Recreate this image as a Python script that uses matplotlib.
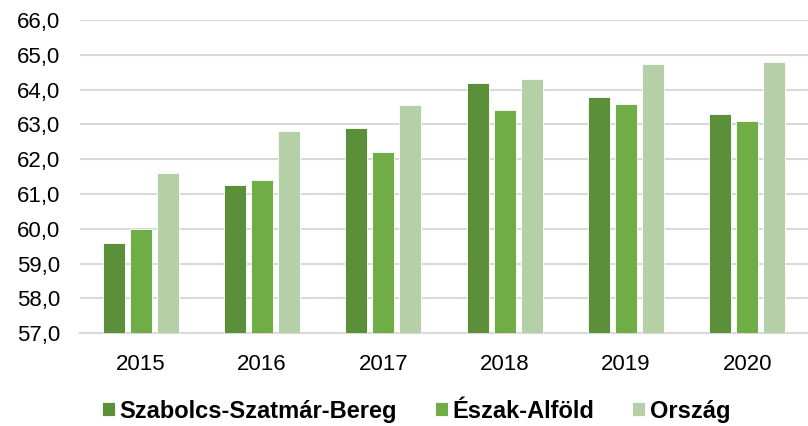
import numpy as np
import matplotlib.pyplot as plt

plt.rcParams['font.family'] = ['Liberation Sans', 'DejaVu Sans']

years = ['2015', '2016', '2017', '2018', '2019', '2020']
szabolcs = [59.6, 61.25, 62.9, 64.2, 63.8, 63.3]
eszak_alfold = [60.0, 61.4, 62.2, 63.4, 63.6, 63.1]
orszag = [61.6, 62.8, 63.55, 64.3, 64.75, 64.8]

series = [
    ('Szabolcs-Szatmár-Bereg', szabolcs, '#5b8f3a'),
    ('Észak-Alföld', eszak_alfold, '#70ad47'),
    ('Ország', orszag, '#b5cfa7'),
]

fig = plt.figure(figsize=(8.08, 4.26), dpi=100)
ax = fig.add_axes([0.099, 0.218, 0.901, 0.735])

x = np.arange(len(years))
step = 0.223
width = 0.18
for i, (name, vals, col) in enumerate(series):
    ax.bar(x + (i - 1) * step, np.array(vals) - 57, width, bottom=57,
           color=col, edgecolor='white', linewidth=0.6, label=name, zorder=3)

ax.set_ylim(57, 66)
ax.set_xlim(-0.5, len(years) - 0.5)
ax.set_yticks(np.arange(57, 67, 1))
ax.set_yticklabels([f'{v:.1f}'.replace('.', ',') for v in np.arange(57, 67, 1)])
ax.set_xticks(x)
ax.set_xticklabels(years)
ax.tick_params(axis='both', length=0, labelsize=16, colors='#000000')
ax.tick_params(axis='x', pad=15)
ax.tick_params(axis='y', pad=14)
ax.grid(axis='y', color='#d9d9d9', linewidth=1.5, zorder=0)
for s in ['top', 'right', 'left']:
    ax.spines[s].set_visible(False)
ax.spines['bottom'].set_color('#d9d9d9')
ax.spines['bottom'].set_linewidth(1.5)

leg = fig.legend(loc='center', bbox_to_anchor=(0.515, 0.035), ncol=3, frameon=False,
                 prop={'size': 17, 'weight': 'bold'}, handlelength=0.55,
                 handleheight=0.55, handletextpad=0.2, columnspacing=1.6)

fig.savefig('out.png', dpi=100)
